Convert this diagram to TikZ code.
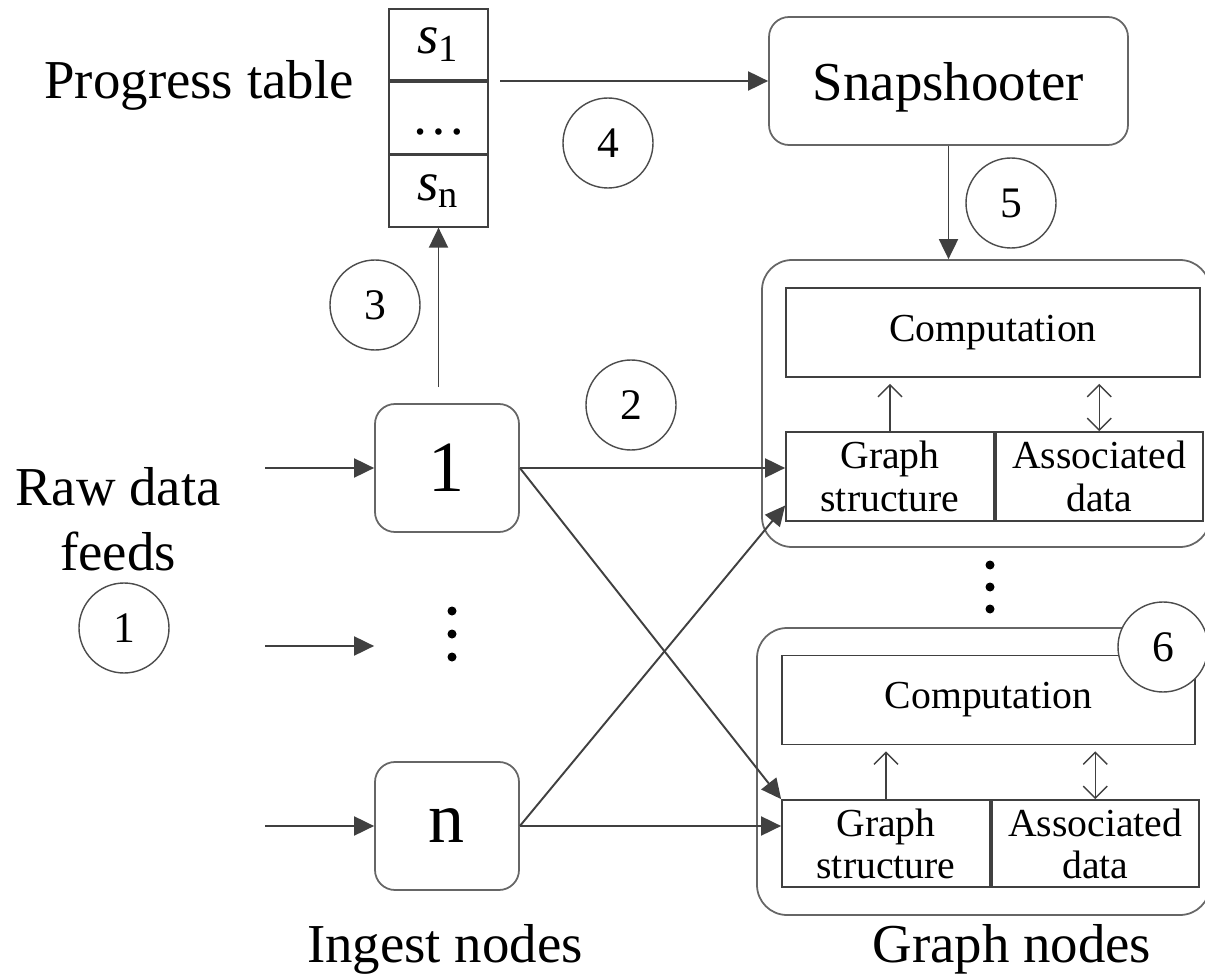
\documentclass[tikz,border=0pt]{standalone}
\usepackage{fontspec}
\setmainfont{Liberation Serif}
\usetikzlibrary{arrows.meta,calc,positioning}

\begin{document}
\begin{tikzpicture}[
            x=0.1mm, y=-0.1mm,
            % cajas redondeadas
            rblock/.style={rectangle, draw=black!60, line width=0.5pt, rounded corners=2mm, inner sep=0pt},
            ingest/.style={rblock, minimum width=14.4mm, minimum height=12.8mm, font=\fontsize{20.5}{24}\selectfont},
            % celdas de la tabla y cajas internas
            cell/.style={rectangle, draw=black!75, line width=0.5pt, minimum width=9.9mm, minimum height=7.15mm, inner sep=0pt, font=\fontsize{15.6}{18}\selectfont},
            ibox/.style={rectangle, draw=black!75, line width=0.5pt, inner sep=0pt, align=center, minimum height=8.9mm, font=\fontsize{11.3}{12}\selectfont},
            num/.style={circle, draw=black!70, line width=0.4pt, fill=white, minimum size=9mm, inner sep=0pt, font=\fontsize{12.4}{14}\selectfont},
            lbl/.style={align=center, font=\fontsize{15.6}{18.5}\selectfont},
            line/.style={draw=black!75, line width=0.55pt, -{Triangle[length=2mm,width=1.9mm]}},
            openline/.style={draw=black!75, line width=0.4pt, -{Straight Barb[length=1.2mm,width=2.4mm]}},
            biline/.style={openline, {Straight Barb[length=1.2mm,width=2.4mm]}-{Straight Barb[length=1.2mm,width=2.4mm]}}
        ]
            \useasboundingbox (0,0) rectangle (1205,975);

            % tabla de progreso
            \node [cell] (s1) at (438.5,44.5) {\textit{s}\textsubscript{1}};
            \node [cell, below=0pt of s1, text height=3.4mm, text depth=0pt] (sdots) {\dots};
            \node [cell, below=0pt of sdots] (sn) {\textit{s}\textsubscript{n}};
            \node [lbl, anchor=base east] (ptlabel) at (366,99) {Progress table};

            \node [rblock, minimum width=35.9mm, minimum height=12.8mm, text depth=0pt, font=\fontsize{15.6}{18}\selectfont] (snap) at (948.5,81) {Snapshooter};

            % nodos de ingesta
            \node [ingest] (ing1) at (447,468) {1};
            \node [ingest, draw=none] (ingdots) at (447,646) {};
            \node [ingest] (ingn) at (447,826) {n};
            \foreach \dy in {-35,-12,11}
                \fill ($(ingdots.center)+(5,\dy)$) circle (0.45mm);

            % nodos de grafo
            \node [rblock, rounded corners=3mm, minimum width=44.8mm, minimum height=28.7mm] (g1) at (986,403.5) {};
            \node [ibox, minimum width=41.4mm] (comp1) at (993,332.5) {Computation};
            \node [ibox, minimum width=20.8mm] (gs1) at (890,476.5) {Graph\\structure};
            \node [ibox, minimum width=20.7mm, right=0pt of gs1] (ad1) {Associated\\data};

            \node [rblock, rounded corners=3mm, minimum width=45.3mm, minimum height=28.7mm] (g2) at (983.5,771.5) {};
            \node [ibox, minimum width=41.3mm] (comp2) at (988.5,700) {Computation};
            \node [ibox, minimum width=20.8mm, minimum height=8.7mm] (gs2) at (886,843.5) {Graph\\structure};
            \node [ibox, minimum width=20.7mm, minimum height=8.7mm, right=0pt of gs2] (ad2) {Associated\\data};

            \coordinate (gdots) at (990,587);
            \foreach \dy in {-22,0,22}
                \fill ($(gdots)+(0,\dy)$) circle (0.45mm);

            % etiquetas
            \node [lbl] (raw) at (118,519) {Raw data\\feeds};
            \node [lbl, anchor=base] (inglabel) at (445,962) {Ingest nodes};
            \node [lbl, anchor=base] (glabel) at (1012,962) {Graph nodes};

            % pasos numerados
            \node [num] (c1) at (124,628) {1};
            \node [num] (c2) at (631,405) {2};
            \node [num] (c3) at (375,305) {3};
            \node [num] (c4) at (608,143) {4};
            \node [num] (c5) at (1011,203) {5};
            \node [num] (c6) at (1163,647) {6};

            \coordinate (in1) at (265,468);
            \coordinate (in2) at (265,646);
            \coordinate (inn) at (265,826);
            \coordinate (t4) at (500,81);

            \path [line] (in1) -- (ing1.west);
            \path [line] (in2) -- (ingdots.west);
            \path [line] (inn) -- (ingn.west);
            \path [line, shorten <=1.6mm] (sn.south |- ing1.north) -- (sn.south);
            \path [line] (t4) -- (snap.west |- t4);
            \path [line] (snap.south) -- (snap.south |- g1.north);
            \path [line] (ing1.east) -- (ing1.east -| gs1.west);
            \path [line] (ing1.east) -- (gs2.north west);
            \path [line] (ingn.east) -- (ingn.east -| gs2.west);
            \path [line] (ingn.east) -- ($(gs1.south west)!0.18!(gs1.north west)$);

            \path [openline, shorten >=0.6mm] (gs1.north) -- (gs1.north |- comp1.south);
            \path [biline, shorten >=0.6mm] (ad1.north) -- (ad1.north |- comp1.south);
            \path [openline, shorten >=0.6mm] (gs2.north) -- (gs2.north |- comp2.south);
            \path [biline, shorten >=0.6mm] (ad2.north) -- (ad2.north |- comp2.south);
        \end{tikzpicture}
\end{document}
